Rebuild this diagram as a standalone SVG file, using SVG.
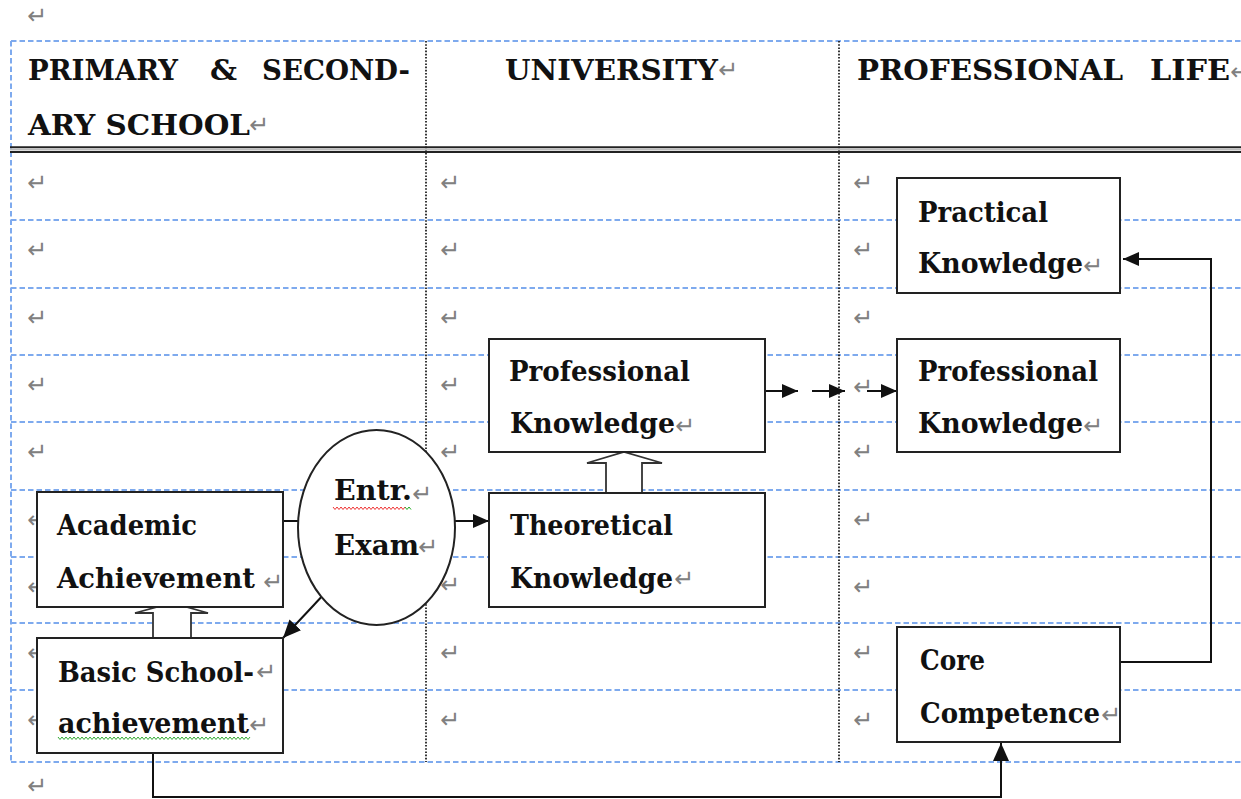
<svg xmlns="http://www.w3.org/2000/svg" width="1241" height="799" viewBox="0 0 1241 799">
<style>
.grid{stroke:#7eaaee;stroke-width:2;stroke-dasharray:5.5 3;fill:none}
.dot{stroke:#222;stroke-width:1.8;stroke-dasharray:1.6 1.6;fill:none}
.t{font-family:"DejaVu Serif","Liberation Serif",serif;font-weight:bold;font-size:28px;fill:#111}
.m{font-family:"DejaVu Sans",sans-serif;font-size:24px;fill:#808080}
.box{fill:#fff;stroke:#222;stroke-width:2}
.con{fill:none;stroke:#111;stroke-width:2}
.blk{fill:#fff;stroke:#333;stroke-width:1.8}
</style>
<defs>
<marker id="ah" viewBox="0 0 16 14" refX="16" refY="7" markerWidth="16" markerHeight="14" markerUnits="userSpaceOnUse" orient="auto">
<path d="M0,0 L16,7 L0,14 Z" fill="#111"/>
</marker>
<marker id="ahL" viewBox="0 0 18 16" refX="18" refY="8" markerWidth="18" markerHeight="16" markerUnits="userSpaceOnUse" orient="auto">
<path d="M0,0 L18,8 L0,16 Z" fill="#111"/>
</marker>
</defs>
<rect width="1241" height="799" fill="#fff"/>

<g id="table">
<line class="grid" x1="11" y1="41" x2="1241" y2="41"/>
<line class="grid" x1="11" y1="41" x2="11" y2="762"/>
<line class="grid" x1="11" y1="220" x2="1241" y2="220"/>
<line class="grid" x1="11" y1="288" x2="1241" y2="288"/>
<line class="grid" x1="11" y1="355" x2="1241" y2="355"/>
<line class="grid" x1="11" y1="422" x2="1241" y2="422"/>
<line class="grid" x1="11" y1="490" x2="1241" y2="490"/>
<line class="grid" x1="11" y1="557" x2="1241" y2="557"/>
<line class="grid" x1="11" y1="623" x2="1241" y2="623"/>
<line class="grid" x1="11" y1="690" x2="1241" y2="690"/>
<line class="grid" x1="11" y1="762" x2="1241" y2="762"/>
<line class="dot" x1="426" y1="41" x2="426" y2="762"/>
<line class="dot" x1="839" y1="41" x2="839" y2="762"/>
<line x1="10" y1="147.3" x2="1241" y2="147.3" stroke="#222" stroke-width="2"/>
<line x1="10" y1="149.6" x2="1241" y2="149.6" stroke="#bbb" stroke-width="1.6"/>
<line x1="10" y1="152" x2="1241" y2="152" stroke="#222" stroke-width="2"/>
<text class="t"><tspan x="28" y="80" textLength="150" lengthAdjust="spacingAndGlyphs">PRIMARY</tspan><tspan x="210" y="80" textLength="27" lengthAdjust="spacingAndGlyphs">&amp;</tspan><tspan x="262" y="80" textLength="148" lengthAdjust="spacingAndGlyphs">SECOND-</tspan></text>
<text class="t" x="28" y="135" textLength="222" lengthAdjust="spacingAndGlyphs">ARY SCHOOL</text>
<text class="t" x="505" y="80" textLength="213" lengthAdjust="spacingAndGlyphs">UNIVERSITY</text>
<text class="t"><tspan x="857" y="80" textLength="266" lengthAdjust="spacingAndGlyphs">PROFESSIONAL</tspan><tspan x="1150" y="80" textLength="80" lengthAdjust="spacingAndGlyphs">LIFE</tspan></text>
<g class="m">
<text x="27" y="24">↵</text>
<text x="249" y="133">↵</text>
<text x="718" y="78">↵</text>
<text x="1230" y="80">↵</text>
<text x="27" y="191">↵</text><text x="27" y="258">↵</text><text x="27" y="326">↵</text><text x="27" y="393">↵</text><text x="27" y="460">↵</text><text x="27" y="528">↵</text><text x="27" y="595">↵</text><text x="27" y="661">↵</text><text x="27" y="728">↵</text>
<text x="440" y="191">↵</text><text x="440" y="258">↵</text><text x="440" y="326">↵</text><text x="440" y="393">↵</text><text x="440" y="460">↵</text><text x="440" y="593">↵</text><text x="440" y="661">↵</text><text x="440" y="728">↵</text>
<text x="853" y="191">↵</text><text x="853" y="258">↵</text><text x="853" y="326">↵</text><text x="853" y="395">↵</text><text x="853" y="460">↵</text><text x="853" y="528">↵</text><text x="853" y="595">↵</text><text x="853" y="661">↵</text><text x="853" y="728">↵</text>
<text x="27" y="794">↵</text>
</g>
</g>

<g id="connectors">
<line class="con" x1="283" y1="521" x2="489" y2="521" marker-end="url(#ah)"/>
<line class="con" x1="326" y1="592" x2="283" y2="638" marker-end="url(#ahL)"/>
<line class="con" x1="765" y1="391" x2="798" y2="391" marker-end="url(#ah)"/>
<line class="con" x1="812" y1="391" x2="845" y2="391" marker-end="url(#ah)"/>
<line class="con" x1="867" y1="391" x2="897" y2="391" marker-end="url(#ah)"/>
<polyline class="con" points="1120,662 1211,662 1211,259 1123,259" marker-end="url(#ah)"/>
<polyline class="con" points="153,753 153,797 1001,797 1001,743" marker-end="url(#ahL)"/>
<polygon class="blk" points="153,638 153,613 135,613 172,603 208,613 191,613 191,638"/>
<polygon class="blk" points="606,493 606,463 587,463 624,452 662,463 642,463 642,493"/>
</g>

<g id="entr-exam">
<ellipse cx="376.5" cy="527.5" rx="78.5" ry="97.5" fill="#fff" stroke="#222" stroke-width="2"/>
<text class="t" x="334" y="500" textLength="78" lengthAdjust="spacingAndGlyphs">Entr.</text>
<text class="t" x="334" y="555" textLength="85" lengthAdjust="spacingAndGlyphs">Exam</text>
<polyline points="333,507 335,509.5 337,507 339,509.5 341,507 343,509.5 345,507 347,509.5 349,507 351,509.5 353,507 355,509.5 357,507 359,509.5 361,507 363,509.5 365,507 367,509.5 369,507 371,509.5 373,507 375,509.5 377,507 379,509.5 381,507 383,509.5 385,507 387,509.5 389,507 391,509.5 393,507 395,509.5 397,507 399,509.5 401,507 403,509.5 405,507" fill="none" stroke="#e33" stroke-width="1"/>
<polyline points="405,507 407,509.5 409,507 411,509.5" fill="none" stroke="#2a2" stroke-width="1"/>
<text class="m" x="412" y="502">↵</text>
<text class="m" x="418" y="555">↵</text>
</g>

<g id="academic-achievement">
<rect class="box" x="37" y="492" width="246" height="115"/>
<text class="t" x="57" y="535" textLength="140" lengthAdjust="spacingAndGlyphs">Academic</text>
<text class="t" x="57" y="588" textLength="198" lengthAdjust="spacingAndGlyphs">Achievement</text>
<text class="m" x="263" y="590">↵</text>
</g>

<g id="basic-school">
<rect class="box" x="37" y="638" width="246" height="115"/>
<text class="t" x="58" y="682" textLength="196" lengthAdjust="spacingAndGlyphs">Basic School-</text>
<text class="t" x="58" y="733" textLength="191" lengthAdjust="spacingAndGlyphs">achievement</text>
<polyline points="58,737 60,739.5 62,737 64,739.5 66,737 68,739.5 70,737 72,739.5 74,737 76,739.5 78,737 80,739.5 82,737 84,739.5 86,737 88,739.5 90,737 92,739.5 94,737 96,739.5 98,737 100,739.5 102,737 104,739.5 106,737 108,739.5 110,737 112,739.5 114,737 116,739.5 118,737 120,739.5 122,737 124,739.5 126,737 128,739.5 130,737 132,739.5 134,737 136,739.5 138,737 140,739.5 142,737 144,739.5 146,737 148,739.5 150,737 152,739.5 154,737 156,739.5 158,737 160,739.5 162,737 164,739.5 166,737 168,739.5 170,737 172,739.5 174,737 176,739.5 178,737 180,739.5 182,737 184,739.5 186,737 188,739.5 190,737 192,739.5 194,737 196,739.5 198,737 200,739.5 202,737 204,739.5 206,737 208,739.5 210,737 212,739.5 214,737 216,739.5 218,737 220,739.5 222,737 224,739.5 226,737 228,739.5 230,737 232,739.5 234,737 236,739.5 238,737 240,739.5 242,737 244,739.5 246,737 248,739.5 250,737" fill="none" stroke="#3a3" stroke-width="1"/>
<text class="m" x="256" y="680">↵</text>
<text class="m" x="249" y="733">↵</text>
</g>

<g id="theoretical-knowledge">
<rect class="box" x="489" y="493" width="276" height="114"/>
<text class="t" x="510" y="535" textLength="163" lengthAdjust="spacingAndGlyphs">Theoretical</text>
<text class="t" x="510" y="588" textLength="163" lengthAdjust="spacingAndGlyphs">Knowledge</text>
<text class="m" x="674" y="587">↵</text>
</g>

<g id="professional-knowledge-univ">
<rect class="box" x="489" y="339" width="276" height="113"/>
<text class="t" x="509" y="381" textLength="181" lengthAdjust="spacingAndGlyphs">Professional</text>
<text class="t" x="510" y="433" textLength="165" lengthAdjust="spacingAndGlyphs">Knowledge</text>
<text class="m" x="675" y="434">↵</text>
</g>

<g id="practical-knowledge">
<rect class="box" x="897" y="178" width="223" height="115"/>
<text class="t" x="918" y="222" textLength="130" lengthAdjust="spacingAndGlyphs">Practical</text>
<text class="t" x="918" y="273" textLength="165" lengthAdjust="spacingAndGlyphs">Knowledge</text>
<text class="m" x="1083" y="274">↵</text>
</g>

<g id="professional-knowledge-prof">
<rect class="box" x="897" y="339" width="223" height="113"/>
<text class="t" x="918" y="381" textLength="180" lengthAdjust="spacingAndGlyphs">Professional</text>
<text class="t" x="918" y="433" textLength="165" lengthAdjust="spacingAndGlyphs">Knowledge</text>
<text class="m" x="1083" y="434">↵</text>
</g>

<g id="core-competence">
<rect class="box" x="897" y="627" width="223" height="115"/>
<text class="t" x="920" y="670" textLength="65" lengthAdjust="spacingAndGlyphs">Core</text>
<text class="t" x="920" y="723" textLength="180" lengthAdjust="spacingAndGlyphs">Competence</text>
<text class="m" x="1101" y="723">↵</text>
</g>
</svg>
